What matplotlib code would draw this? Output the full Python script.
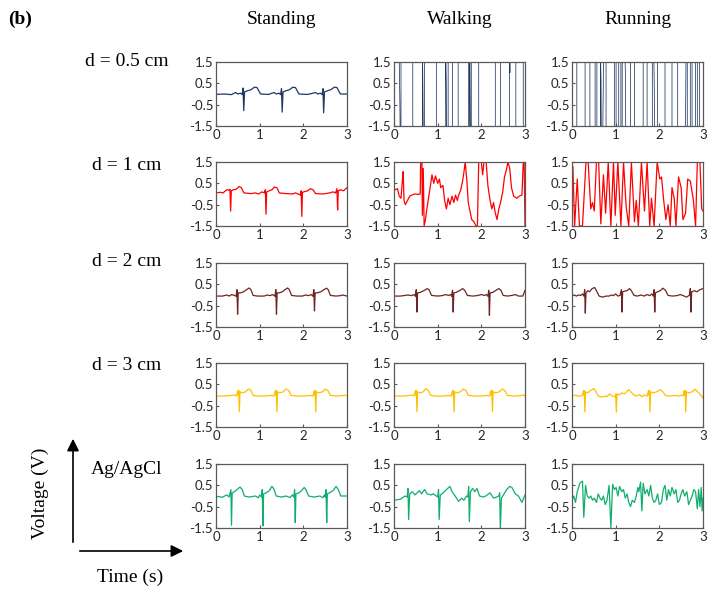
import matplotlib
matplotlib.use("Agg")
import matplotlib.pyplot as plt
from matplotlib.patches import FancyArrowPatch

# ---- data: (time s, voltage V) ----
cols = ['Standing', 'Walking', 'Running']
rows = ['d = 0.5 cm', 'd = 1 cm', 'd = 2 cm', 'd = 3 cm', 'Ag/AgCl']
colors = ['#1f3864', '#ff0000', '#6e2424', '#ffc000', '#0fae6e']

# d = 0.5 cm
d05_stand = [(0, -0.02), (0.2, 0.0), (0.35, -0.03), (0.45, 0.07), (0.5, 0.0), (0.56, 0.04), (0.6, -0.03),
             (0.62, 0.28), (0.635, -0.78), (0.655, 0.1), (0.72, 0.15), (0.8, 0.2), (0.88, 0.32), (0.94, 0.3),
             (1.02, 0.0), (1.2, -0.02), (1.33, 0.07), (1.38, 0.0), (1.44, 0.04), (1.48, -0.03), (1.5, 0.25),
             (1.515, -0.85), (1.535, 0.1), (1.6, 0.15), (1.68, 0.2), (1.76, 0.32), (1.82, 0.3), (1.9, 0.0),
             (2.1, -0.02), (2.28, 0.07), (2.33, 0.0), (2.39, 0.04), (2.43, -0.03), (2.45, 0.25), (2.465, -0.88),
             (2.485, 0.1), (2.55, 0.15), (2.63, 0.2), (2.71, 0.32), (2.77, 0.3), (2.85, 0.0), (3.0, 0.0)]
d05_walk = [(0.0, 1.6), (0.12, 1.6), (0.135, -0.5), (0.14, -1.6), (0.16, -1.6), (0.16, 1.6), (0.43, 1.6),
            (0.43, -1.6), (0.655, -1.6), (0.655, 1.6), (0.665, -0.5), (0.67, -1.6), (0.7, -1.6), (0.7, 1.6),
            (0.97, 1.6), (0.97, -1.6), (1.185, -1.6), (1.185, 1.6), (1.195, 0.4), (1.2, -1.6), (1.24, -1.6),
            (1.24, 1.6), (1.34, 1.6), (1.34, -1.6), (1.47, -1.6), (1.47, 1.6), (1.71, 1.6), (1.71, -1.6),
            (1.735, -1.6), (1.735, 1.6), (1.745, -1.3), (1.75, -1.6), (1.77, -1.6), (1.77, 1.6), (1.94, 1.6),
            (1.94, -1.6), (2.32, -1.6), (2.32, 1.6), (2.44, 1.6), (2.44, -1.6), (2.645, -1.6), (2.645, 1.6),
            (2.655, 1.0), (2.66, 1.6), (2.79, 1.6), (2.79, -1.6), (2.96, -1.6), (2.96, 1.6), (3.0, 1.6)]
d05_run = [(0.0, 1.6), (0.11, 1.6), (0.11, -1.6), (0.3, -1.6), (0.3, 1.6), (0.41, 1.6), (0.41, -1.6),
           (0.53, -1.6), (0.53, 1.6), (0.57, 1.6), (0.57, -1.6), (0.655, -1.6), (0.655, 1.6), (0.665, 0.6),
           (0.67, -1.6), (0.705, -1.6), (0.715, 0.1), (0.72, 1.6), (0.78, 1.6), (0.78, -1.6), (0.97, -1.6),
           (0.97, 1.6), (1.01, 1.6), (1.01, -1.6), (1.07, -1.6), (1.07, 1.6), (1.12, 1.6), (1.12, -1.6),
           (1.15, -1.6), (1.15, 1.6), (1.215, 1.6), (1.225, 0.8), (1.23, -1.6), (1.34, -1.6), (1.34, 1.6),
           (1.43, 1.6), (1.43, -1.6), (1.63, -1.6), (1.63, 1.6), (1.72, 1.6), (1.72, -1.6), (1.84, -1.6),
           (1.84, 1.6), (1.875, 1.6), (1.885, 0.2), (1.89, -1.6), (1.96, -1.6), (1.96, 1.6), (2.13, 1.6),
           (2.13, -1.6), (2.29, -1.6), (2.29, 1.6), (2.42, 1.6), (2.42, -1.6), (2.595, -1.6), (2.605, 0.0),
           (2.61, 1.6), (2.64, 1.6), (2.64, -1.6), (2.71, -1.6), (2.71, 1.6), (2.75, 1.6), (2.75, -1.6),
           (2.83, -1.6), (2.83, 1.6), (2.87, 1.6), (2.87, -1.6), (2.92, -1.6), (2.92, 1.6), (3.0, 1.6)]

# d = 1 cm
d1_stand = [(0, 0.05), (0.1, 0.08), (0.16, 0.05), (0.2, 0.12), (0.25, 0.2), (0.3, 0.18), (0.32, 0.22),
            (0.335, -0.8), (0.35, 0.15), (0.4, 0.2), (0.46, 0.22), (0.53, 0.35), (0.58, 0.3), (0.64, 0.05),
            (0.8, 0.02), (0.9, 0.05), (0.98, 0.0), (1.05, 0.1), (1.11, 0.05), (1.13, 0.2), (1.145, -0.95),
            (1.16, 0.1), (1.22, 0.15), (1.28, 0.2), (1.34, 0.33), (1.4, 0.28), (1.45, 0.05), (1.6, 0.02),
            (1.75, 0.0), (1.82, 0.05), (1.88, 0.0), (1.93, -0.05), (1.95, 0.15), (1.965, -1.05), (1.98, 0.08),
            (2.04, 0.12), (2.1, 0.15), (2.16, 0.25), (2.22, 0.2), (2.28, 0.02), (2.45, 0.0), (2.6, 0.05),
            (2.68, 0.1), (2.74, 0.05), (2.77, 0.25), (2.785, -0.75), (2.8, 0.15), (2.85, 0.2), (2.92, 0.15),
            (3.0, 0.3)]
d1_walk = [(0.0, 0.25), (0.04, 0.2), (0.08, 0.25), (0.12, -0.1), (0.16, -0.2), (0.19, 0.6), (0.21, 1.05),
           (0.23, -0.3), (0.26, -0.5), (0.31, -0.3), (0.36, -0.1), (0.41, -0.05), (0.47, 0.0), (0.56, -0.02),
           (0.6, 0.0), (0.61, 1.5), (0.64, 1.5), (0.65, -1.0), (0.67, 1.2), (0.69, -1.5), (0.72, -1.2),
           (0.76, -0.6), (0.82, 0.2), (0.87, 0.9), (0.91, 0.5), (0.95, 0.85), (1.0, 0.5), (1.04, 0.7),
           (1.07, 0.3), (1.12, 0.4), (1.16, -0.3), (1.2, -0.7), (1.24, -0.2), (1.28, -0.5), (1.33, -0.1),
           (1.37, -0.4), (1.41, -0.05), (1.45, -0.3), (1.49, 0.0), (1.53, 0.2), (1.57, 0.6), (1.6, 1.0),
           (1.63, 1.5), (1.67, 0.6), (1.7, -0.4), (1.74, -0.8), (1.78, -1.2), (1.83, -1.3), (1.88, -1.5),
           (1.91, -1.5), (1.94, 1.5), (2.0, 1.5), (2.03, 0.9), (2.06, 1.5), (2.11, 1.5), (2.15, 0.4),
           (2.2, -0.3), (2.24, -0.7), (2.28, -0.4), (2.32, -0.9), (2.36, -1.2), (2.4, -0.7), (2.44, -0.4),
           (2.49, 0.1), (2.53, 0.8), (2.57, 1.1), (2.61, 1.5), (2.65, 1.2), (2.69, 0.3), (2.74, -0.1),
           (2.81, -0.2), (2.87, -0.1), (2.93, -0.05), (2.96, 1.5), (2.98, 1.5), (3.0, -1.5)]
d1_run = [(0.0, 1.3), (0.02, 1.3), (0.06, -1.5), (0.12, 0.7), (0.17, -1.5), (0.24, -1.5), (0.32, 1.5),
          (0.37, 1.5), (0.43, -0.7), (0.47, -0.4), (0.51, -0.8), (0.56, 1.5), (0.61, 1.5), (0.66, -1.4),
          (0.72, 0.9), (0.77, -0.9), (0.83, 1.5), (0.89, -1.5), (0.95, 1.5), (0.99, -1.0), (1.05, 1.5),
          (1.12, -1.5), (1.18, 1.5), (1.24, -0.6), (1.3, -1.5), (1.36, 1.5), (1.43, -1.3), (1.47, -0.3),
          (1.52, -1.5), (1.59, 1.5), (1.66, -0.8), (1.72, 1.5), (1.78, -1.5), (1.82, -0.2), (1.88, -1.5),
          (1.95, 1.5), (2.01, 0.7), (2.05, 0.8), (2.1, -0.3), (2.15, -1.2), (2.2, -0.5), (2.25, -1.5),
          (2.29, 0.3), (2.34, -0.2), (2.38, -1.5), (2.44, 0.8), (2.5, 0.3), (2.54, -1.2), (2.6, -0.9),
          (2.65, 0.7), (2.71, 0.6), (2.78, -0.3), (2.83, -1.5), (2.87, 1.5), (2.93, 1.5), (2.97, -0.7),
          (3.0, -0.8)]

# d = 2 cm
d2_stand = [(0, -0.05), (0.15, -0.05), (0.25, 0.0), (0.3, -0.05), (0.36, 0.02), (0.42, -0.02), (0.46, -0.06),
            (0.48, 0.25), (0.495, -0.9), (0.51, 0.1), (0.56, 0.1), (0.63, 0.15), (0.7, 0.25), (0.76, 0.33),
            (0.8, 0.25), (0.85, -0.02), (0.95, -0.05), (1.1, -0.05), (1.18, 0.0), (1.24, -0.03), (1.3, 0.02),
            (1.35, -0.06), (1.37, 0.25), (1.385, -0.9), (1.4, 0.1), (1.45, 0.1), (1.52, 0.15), (1.58, 0.25),
            (1.64, 0.33), (1.68, 0.25), (1.73, -0.02), (1.85, -0.05), (1.98, -0.05), (2.05, 0.0), (2.12, -0.03),
            (2.18, 0.02), (2.22, -0.06), (2.24, 0.25), (2.255, -0.75), (2.27, 0.1), (2.32, 0.1), (2.4, 0.15),
            (2.47, 0.25), (2.53, 0.32), (2.57, 0.25), (2.62, -0.02), (2.75, -0.05), (2.85, -0.03), (2.9, 0.0),
            (3.0, -0.05)]
d2_walk = [(0, -0.05), (0.15, -0.05), (0.25, -0.02), (0.32, 0.0), (0.4, -0.03), (0.46, 0.02), (0.49, -0.06),
           (0.51, 0.25), (0.525, -0.8), (0.54, 0.1), (0.6, 0.12), (0.68, 0.2), (0.76, 0.3), (0.8, 0.25),
           (0.86, -0.02), (1.0, -0.05), (1.1, -0.03), (1.18, 0.02), (1.25, -0.02), (1.3, 0.02), (1.32, -0.06),
           (1.34, 0.22), (1.355, -0.8), (1.37, 0.1), (1.42, 0.12), (1.5, 0.2), (1.57, 0.3), (1.62, 0.22),
           (1.68, -0.02), (1.8, -0.05), (1.9, -0.03), (2.0, 0.02), (2.07, -0.02), (2.12, 0.02), (2.15, -0.06),
           (2.17, 0.22), (2.185, -0.95), (2.2, 0.1), (2.26, 0.12), (2.32, 0.2), (2.4, 0.3), (2.45, 0.22),
           (2.5, -0.02), (2.6, -0.05), (2.7, -0.02), (2.78, 0.02), (2.85, -0.05), (2.95, -0.05), (3.0, 0.22)]
d2_run = [(0, -0.05), (0.05, 0.0), (0.1, -0.05), (0.15, 0.0), (0.2, -0.02), (0.24, 0.05), (0.27, -0.05),
          (0.29, 0.25), (0.305, -0.85), (0.32, 0.1), (0.36, 0.2), (0.4, 0.15), (0.46, 0.3), (0.52, 0.35),
          (0.56, 0.2), (0.62, -0.05), (0.7, -0.1), (0.78, -0.05), (0.85, -0.05), (0.9, 0.0), (0.95, -0.03),
          (1.0, 0.05), (1.05, -0.05), (1.1, -0.02), (1.13, 0.25), (1.145, -0.8), (1.16, 0.15), (1.2, 0.18),
          (1.26, 0.2), (1.32, 0.3), (1.36, 0.2), (1.42, -0.02), (1.5, -0.05), (1.58, 0.0), (1.65, -0.05),
          (1.72, 0.02), (1.78, -0.03), (1.83, 0.05), (1.86, -0.05), (1.88, 0.25), (1.895, -0.8), (1.91, 0.1),
          (1.96, 0.15), (2.02, 0.2), (2.08, 0.32), (2.14, 0.22), (2.2, -0.02), (2.3, -0.05), (2.4, -0.03),
          (2.48, 0.02), (2.55, -0.03), (2.62, -0.1), (2.66, -0.05), (2.69, 0.0), (2.71, 0.3), (2.725, -0.8),
          (2.74, 0.15), (2.8, 0.2), (2.86, 0.15), (2.93, 0.25), (3.0, 0.3)]

# d = 3 cm
d3_stand = [(0, -0.05), (0.2, -0.05), (0.35, -0.02), (0.42, 0.0), (0.47, -0.05), (0.5, 0.2), (0.51, 0.0),
            (0.52, 0.22), (0.535, -0.78), (0.55, 0.15), (0.6, 0.1), (0.68, 0.15), (0.74, 0.28), (0.8, 0.22),
            (0.85, -0.02), (0.95, -0.05), (1.1, -0.05), (1.25, -0.02), (1.33, -0.05), (1.36, 0.2), (1.37, 0.0),
            (1.38, 0.22), (1.395, -0.8), (1.41, 0.15), (1.46, 0.1), (1.54, 0.15), (1.6, 0.28), (1.66, 0.22),
            (1.72, -0.02), (1.85, -0.05), (2.0, -0.05), (2.15, -0.02), (2.22, -0.05), (2.25, 0.2), (2.26, 0.0),
            (2.27, 0.22), (2.285, -0.8), (2.3, 0.15), (2.36, 0.1), (2.44, 0.15), (2.5, 0.28), (2.56, 0.22),
            (2.62, -0.02), (2.75, -0.05), (2.9, -0.03), (2.95, 0.0), (3.0, -0.05)]
d3_walk = [(0, -0.05), (0.2, -0.05), (0.35, -0.02), (0.42, 0.0), (0.46, -0.05), (0.49, 0.2), (0.5, 0.0),
           (0.51, 0.22), (0.525, -0.78), (0.54, 0.15), (0.6, 0.1), (0.67, 0.15), (0.73, 0.3), (0.79, 0.2),
           (0.84, -0.02), (0.95, -0.05), (1.1, -0.05), (1.25, -0.02), (1.31, -0.05), (1.34, 0.2), (1.35, 0.0),
           (1.36, 0.22), (1.375, -0.8), (1.39, 0.15), (1.45, 0.1), (1.52, 0.15), (1.59, 0.28), (1.65, 0.2),
           (1.7, -0.02), (1.85, -0.05), (2.0, -0.05), (2.12, -0.02), (2.19, -0.05), (2.22, 0.2), (2.23, 0.0),
           (2.24, 0.22), (2.255, -0.78), (2.27, 0.15), (2.33, 0.1), (2.41, 0.15), (2.48, 0.28), (2.54, 0.2),
           (2.6, -0.02), (2.75, -0.05), (2.9, -0.03), (2.96, 0.0), (3.0, -0.05)]
d3_run = [(0, -0.05), (0.08, 0.0), (0.14, -0.05), (0.2, -0.05), (0.24, 0.0), (0.26, 0.2), (0.27, 0.0),
          (0.28, 0.22), (0.295, -0.8), (0.31, 0.15), (0.36, 0.1), (0.42, 0.2), (0.5, 0.3), (0.55, 0.15),
          (0.6, -0.05), (0.68, -0.1), (0.75, -0.05), (0.8, -0.08), (0.86, 0.05), (0.92, -0.05), (0.98, -0.08),
          (1.0, 0.05), (1.015, -0.8), (1.03, 0.05), (1.08, 0.0), (1.14, 0.1), (1.2, 0.05), (1.25, 0.15),
          (1.3, 0.25), (1.36, 0.12), (1.42, 0.0), (1.48, -0.05), (1.55, 0.02), (1.6, -0.08), (1.66, 0.0),
          (1.72, -0.05), (1.75, 0.2), (1.76, 0.0), (1.77, 0.22), (1.785, -0.8), (1.8, 0.15), (1.86, 0.1),
          (1.94, 0.15), (2.02, 0.25), (2.08, 0.15), (2.14, -0.02), (2.25, -0.05), (2.35, -0.02), (2.45, -0.05),
          (2.52, 0.0), (2.55, -0.05), (2.57, 0.2), (2.58, 0.0), (2.59, 0.22), (2.605, -0.8), (2.62, 0.15),
          (2.68, 0.1), (2.75, 0.15), (2.82, 0.27), (2.88, 0.15), (2.95, 0.0), (3.0, -0.15)]

# Ag/AgCl
agcl_stand = [(0, -0.05), (0.08, -0.02), (0.13, -0.07), (0.2, 0.0), (0.25, 0.05), (0.3, -0.05), (0.34, 0.3),
              (0.355, -1.37), (0.37, 0.15), (0.42, 0.2), (0.48, 0.3), (0.55, 0.42), (0.6, 0.3), (0.65, 0.0),
              (0.75, -0.05), (0.85, -0.02), (0.9, 0.0), (0.97, -0.08), (1.0, 0.05), (1.04, -0.05), (1.06, 0.3),
              (1.075, -1.4), (1.09, 0.1), (1.15, 0.15), (1.22, 0.25), (1.28, 0.45), (1.32, 0.35), (1.38, 0.0),
              (1.5, -0.05), (1.6, 0.0), (1.7, -0.07), (1.75, 0.05), (1.78, -0.05), (1.8, 0.3), (1.815, -1.25),
              (1.83, 0.1), (1.9, 0.15), (1.96, 0.25), (2.02, 0.4), (2.06, 0.3), (2.12, 0.0), (2.25, -0.05),
              (2.38, 0.0), (2.45, -0.08), (2.48, 0.05), (2.5, -0.05), (2.52, 0.3), (2.535, -1.25), (2.55, 0.1),
              (2.6, 0.15), (2.68, 0.25), (2.75, 0.45), (2.8, 0.3), (2.86, 0.0), (3.0, 0.0)]
agcl_walk = [(0, -0.2), (0.15, -0.15), (0.25, 0.0), (0.3, -0.05), (0.32, 0.35), (0.335, -1.1), (0.36, 0.1),
             (0.42, 0.2), (0.48, 0.05), (0.53, 0.15), (0.58, 0.25), (0.63, 0.1), (0.7, 0.3), (0.76, 0.1),
             (0.85, 0.05), (0.9, 0.1), (0.97, 0.0), (1.0, -0.05), (1.02, 0.3), (1.035, -1.1), (1.06, 0.05),
             (1.1, 0.1), (1.2, 0.3), (1.28, 0.45), (1.33, 0.2), (1.4, 0.0), (1.48, -0.25), (1.55, -0.1),
             (1.6, -0.2), (1.66, 0.0), (1.69, -0.05), (1.71, 0.45), (1.725, -1.2), (1.75, 0.2), (1.8, 0.35),
             (1.85, 0.2), (1.9, 0.35), (1.96, 0.0), (2.05, -0.05), (2.1, 0.0), (2.2, 0.15), (2.28, -0.1),
             (2.35, -0.05), (2.4, 0.0), (2.42, 0.15), (2.435, -1.6), (2.46, -0.1), (2.52, 0.1), (2.58, 0.3),
             (2.65, 0.45), (2.7, 0.4), (2.78, 0.1), (2.85, 0.0), (2.93, -0.3), (3.0, 0.05)]
agcl_run = [(0.0, -0.2), (0.04, 0.0), (0.08, -0.3), (0.12, 0.2), (0.18, 0.6), (0.24, 0.7), (0.27, -1.0),
            (0.31, 0.5), (0.35, 0.0), (0.39, -0.1), (0.43, 0.0), (0.47, -0.2), (0.51, -0.1), (0.56, -0.3),
            (0.6, 0.1), (0.64, -0.1), (0.68, -0.2), (0.72, 0.0), (0.76, -0.4), (0.8, -0.2), (0.85, 0.5),
            (0.89, -1.5), (0.93, 0.55), (0.97, 0.3), (1.01, 0.4), (1.05, 0.0), (1.09, 0.45), (1.14, 0.2),
            (1.18, 0.3), (1.22, -0.1), (1.26, 0.1), (1.3, -0.3), (1.34, -0.5), (1.38, -0.2), (1.43, -0.3),
            (1.47, 0.0), (1.51, 0.4), (1.53, 0.2), (1.57, 0.65), (1.6, -0.7), (1.63, 0.6), (1.67, 0.1),
            (1.72, 0.3), (1.76, 0.0), (1.8, 0.5), (1.84, -0.1), (1.88, -0.3), (1.92, -0.2), (1.96, 0.1),
            (2.0, -0.4), (2.05, -0.3), (2.09, 0.3), (2.13, 0.5), (2.17, -0.2), (2.21, 0.3), (2.25, 0.0),
            (2.29, 0.4), (2.34, 0.1), (2.38, 0.3), (2.42, -0.3), (2.46, -0.2), (2.5, 0.1), (2.54, 0.3),
            (2.58, 0.0), (2.63, 0.2), (2.67, -0.4), (2.71, -0.2), (2.75, 0.0), (2.79, 0.3), (2.83, 0.2),
            (2.87, -0.6), (2.9, 0.3), (2.93, -0.5), (2.96, 0.4), (2.98, -0.7), (3.0, -0.1)]

traces = [[d05_stand, d05_walk, d05_run],
          [d1_stand, d1_walk, d1_run],
          [d2_stand, d2_walk, d2_run],
          [d3_stand, d3_walk, d3_run],
          [agcl_stand, agcl_walk, agcl_run]]

x_ticks = [0, 1, 2, 3]
y_ticks = [-1.5, -0.5, 0.5, 1.5]

# ---- layout ----
W, H = 712, 594
fig = plt.figure(figsize=(W / 100, H / 100), dpi=100)
serif = 'Liberation Serif'

col_left = [216, 394, 572]
row_top = [62, 162, 263, 363, 464]
ax_w, ax_h = 131, 64

for r in range(5):
    for c in range(3):
        ax = fig.add_axes([col_left[c] / W, 1 - (row_top[r] + ax_h) / H, ax_w / W, ax_h / H])
        pts = traces[r][c]
        t = [p[0] for p in pts]
        v = [p[1] for p in pts]
        lw = 0.55 if r == 0 and c > 0 else 0.9
        ax.plot(t, v, color=colors[r], lw=lw)
        ax.set_xlim(0, 3)
        ax.set_ylim(-1.5, 1.5)
        ax.set_xticks(x_ticks)
        ax.set_yticks(y_ticks)
        ax.set_yticklabels(['-1.5', '-0.5', '0.5', '1.5'])
        ax.tick_params(direction='in', length=2.5, width=0.8, color='#595959',
                       labelsize=9.5, pad=2, labelcolor='#262626')
        for lab in ax.get_xticklabels() + ax.get_yticklabels():
            lab.set_family('Lato')
        for s in ax.spines.values():
            s.set_color('#595959')
            s.set_linewidth(0.9)

# column titles
for c in range(3):
    fig.text((col_left[c] + ax_w / 2) / W, 1 - 20 / H, cols[c], family=serif, fontsize=14,
             ha='center', va='center')

# row labels
row_label_y = [61, 166, 262, 365, 470]
for r in range(5):
    fig.text(127 / W, 1 - row_label_y[r] / H, rows[r], family=serif, fontsize=14,
             ha='center', va='center')

fig.text(8 / W, 1 - 19 / H, '(b)', family=serif, fontsize=14, fontweight='bold',
         ha='left', va='center')

# axis sketch
fig.add_artist(FancyArrowPatch((73 / W, 1 - 545 / H), (73 / W, 1 - 436 / H), transform=fig.transFigure,
                               arrowstyle='-|>', mutation_scale=18, lw=1.2, color='black'))
fig.add_artist(FancyArrowPatch((77 / W, 1 - 551 / H), (186 / W, 1 - 551 / H), transform=fig.transFigure,
                               arrowstyle='-|>', mutation_scale=18, lw=1.2, color='black'))
fig.text(40 / W, 1 - 493 / H, 'Voltage (V)', family=serif, fontsize=14, rotation=90,
         ha='center', va='center')
fig.text(130 / W, 1 - 577 / H, 'Time (s)', family=serif, fontsize=14, ha='center', va='center')

fig.savefig('out.png', dpi=100)
